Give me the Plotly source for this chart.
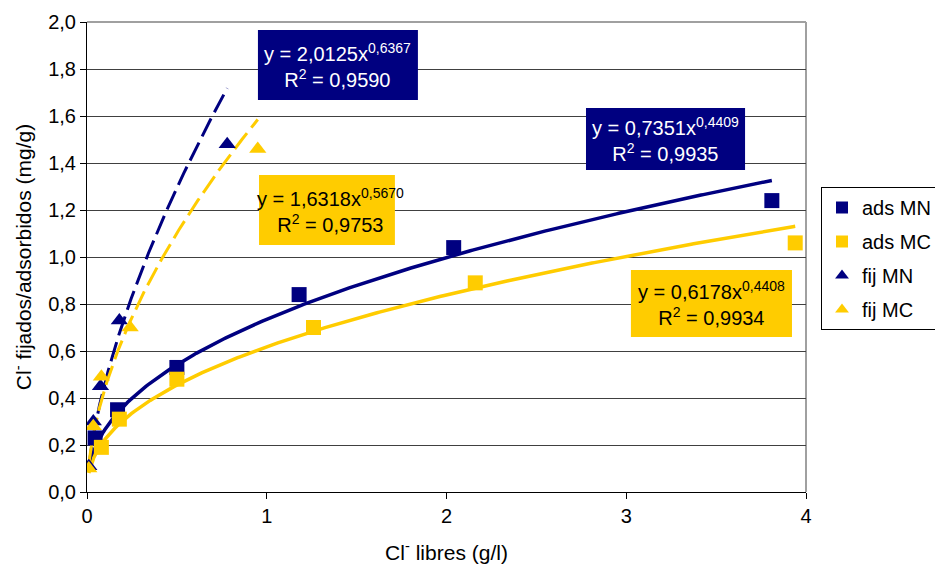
import numpy as np
import plotly.graph_objects as go

NAVY = "#000080"
GOLD = "#FFCC00"

# Data
ads_mn_x = [0.045, 0.17, 0.50, 1.18, 2.04, 3.81]
ads_mn_y = [0.23, 0.35, 0.53, 0.84, 1.04, 1.24]
ads_mc_x = [0.08, 0.18, 0.50, 1.26, 2.16, 3.94]
ads_mc_y = [0.19, 0.31, 0.48, 0.70, 0.89, 1.06]
fij_mn_x = [0.01, 0.035, 0.075, 0.18, 0.78]
fij_mn_y = [0.11, 0.30, 0.45, 0.73, 1.48]
fij_mc_x = [0.01, 0.035, 0.08, 0.24, 0.95]
fij_mc_y = [0.10, 0.28, 0.49, 0.70, 1.46]

# Power trendline coefficients (y = a x^b) as shown on chart
fit_a = {"ads MN": 0.7351, "ads MC": 0.6178, "fij MN": 2.0125, "fij MC": 1.6318}
fit_b = {"ads MN": 0.4409, "ads MC": 0.4408, "fij MN": 0.6367, "fij MC": 0.5670}
fit_r2 = {"ads MN": "0,9935", "ads MC": "0,9934", "fij MN": "0,9590", "fij MC": "0,9753"}
fit_xmin = {"ads MN": 0.01, "ads MC": 0.01, "fij MN": 0.01, "fij MC": 0.01}

FONT = "Liberation Sans, Arial, sans-serif"

fig = go.Figure()

series = [
    ("ads MN", ads_mn_x, ads_mn_y, NAVY, "square", None),
    ("ads MC", ads_mc_x, ads_mc_y, GOLD, "square", None),
    ("fij MN", fij_mn_x, fij_mn_y, NAVY, "triangle-up", "20px,7px"),
    ("fij MC", fij_mc_x, fij_mc_y, GOLD, "triangle-up", "20px,7px"),
]

# trendlines first (behind markers)
for name, xs, ys, col, sym, dash in series:
    xt = np.linspace(fit_xmin[name], max(xs), 300)
    yt = fit_a[name] * xt ** fit_b[name]
    fig.add_trace(go.Scatter(
        x=xt, y=yt, mode="lines", showlegend=False, hoverinfo="skip",
        line=dict(color=col, width=3.5 if dash is None else 3,
                  dash=dash if dash else "solid"),
    ))

for i, (name, xs, ys, col, sym, dash) in enumerate(series):
    fig.add_trace(go.Scatter(
        x=xs, y=ys, mode="markers", name=name, legendgroup=name,
        marker=dict(color=col, symbol=sym, size=15, line=dict(width=0)),
    ))

def fmt(v, n=4):
    return f"{v:.{n}f}".replace(".", ",")

# (name, center x, center y, bg, font colour, box [x0, x1, y0, y1] in data units)
boxes = [
    ("fij MN", 1.396, 1.817, NAVY, "white", [0.951, 1.841, 1.668, 1.966]),
    ("fij MC", 1.357, 1.200, GOLD, "black", [0.957, 1.713, 1.051, 1.349]),
    ("ads MN", 3.218, 1.502, NAVY, "white", [2.776, 3.661, 1.370, 1.634]),
    ("ads MC", 3.474, 0.802, GOLD, "black", [3.026, 3.922, 0.660, 0.945]),
]
for name, cx, cy, bg, fc, (x0, x1, y0, y1) in boxes:
    fig.add_shape(type="rect", xref="x", yref="y", x0=x0, x1=x1, y0=y0, y1=y1,
                  fillcolor=bg, line=dict(width=0), layer="above")
    txt = (f"y = {fmt(fit_a[name])}x<sup>{fmt(fit_b[name])}</sup><br>"
           f"R<sup>2</sup> = {fit_r2[name]}")
    fig.add_annotation(
        x=cx, y=cy, xref="x", yref="y", text=txt, showarrow=False,
        font=dict(color=fc, size=20, family=FONT), align="center",
    )

# page has an 8px body margin, so figure is sized 16px smaller than the window
fig.update_layout(
    width=927, height=556,
    margin=dict(l=79, r=129, t=14, b=72),
    paper_bgcolor="white", plot_bgcolor="white",
    font=dict(family=FONT, size=20, color="black"),
    separators=",.",
    showlegend=True,
    legend=dict(
        xref="container", yref="container",
        x=813 / 927, y=1 - 179 / 556, xanchor="left", yanchor="top",
        bordercolor="black", borderwidth=1, bgcolor="white",
        font=dict(size=20, family=FONT), tracegroupgap=5,
        itemsizing="constant",
    ),
)
fig.update_xaxes(
    range=[0, 4], tickvals=[0, 1, 2, 3, 4], ticks="outside", ticklen=6,
    tickcolor="black", showline=True, linecolor="black", linewidth=1,
    showgrid=False, zeroline=False, mirror=False, automargin=False,
    title=dict(text="Cl<sup>-</sup> libres (g/l)", font=dict(size=21), standoff=22),
    tickfont=dict(size=20),
)
fig.update_yaxes(
    range=[0, 2.0], dtick=0.2, tickformat=".1f", ticks="outside", ticklen=6,
    tickcolor="black", showline=True, linecolor="black", linewidth=1,
    showgrid=True, gridcolor="#404040", gridwidth=1, zeroline=False,
    automargin=False,
    title=dict(text="Cl<sup>-</sup> fijados/adsorbidos (mg/g)", font=dict(size=21), standoff=10),
    tickfont=dict(size=20),
)
# gray right/top border of plot area
fig.add_shape(type="line", xref="paper", yref="paper", x0=1, x1=1, y0=0, y1=1,
              line=dict(color="#A0A0A0", width=2), layer="below")
fig.add_shape(type="line", xref="paper", yref="paper", x0=0, x1=1, y0=1, y1=1,
              line=dict(color="#A0A0A0", width=2), layer="below")

fig.write_html("out.html")
